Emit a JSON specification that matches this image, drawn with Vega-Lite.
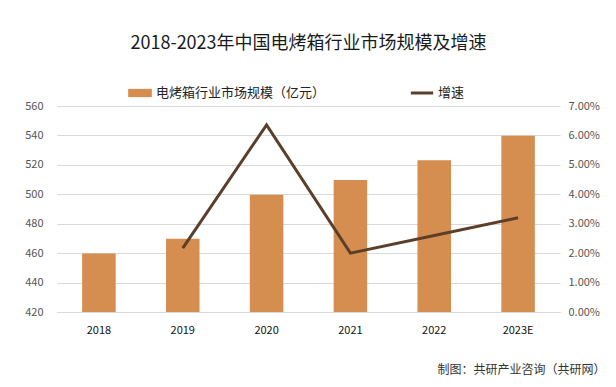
{
  "$schema": "https://vega.github.io/schema/vega-lite/v6.json",
  "width": 503,
  "height": 206,
  "autosize": {"type": "none"},
  "padding": {"left": 57, "top": 106, "right": 56, "bottom": 75},
  "background": "white",
  "config": {
    "font": "Noto Sans CJK SC",
    "view": {"stroke": null}
  },
  "title": {
    "text": "2018-2023年中国电烤箱行业市场规模及增速",
    "fontSize": 18,
    "fontWeight": "normal",
    "color": "#1a1a1a",
    "anchor": "middle",
    "offset": 27
  },
  "data": {
    "values": [
      {"year": "2018", "size": 459.8, "growth": null},
      {"year": "2019", "size": 469.8, "growth": 0.0217},
      {"year": "2020", "size": 499.7, "growth": 0.0636},
      {"year": "2021", "size": 509.7, "growth": 0.0200},
      {"year": "2022", "size": 523.2, "growth": 0.0260},
      {"year": "2023E", "size": 539.8, "growth": 0.0320}
    ]
  },
  "encoding": {
    "x": {
      "field": "year",
      "type": "nominal",
      "sort": null,
      "scale": {"paddingInner": 0.6, "paddingOuter": 0.3},
      "axis": {
        "labelAngle": 0,
        "labelFontSize": 11,
        "labelColor": "#111",
        "labelPadding": 12,
        "ticks": false,
        "domainColor": "#d9d9d9",
        "title": "制图：共研产业咨询（共研网）",
        "titleFontSize": 12,
        "titleFontWeight": "normal",
        "titleColor": "#333",
        "titleAnchor": "end",
        "titleAlign": "right",
        "titleX": 548,
        "titleY": 52
      }
    }
  },
  "layer": [
    {
      "mark": {"type": "bar", "color": "#D58E4F", "clip": true},
      "encoding": {
        "y": {
          "field": "size",
          "type": "quantitative",
          "scale": {"domain": [420, 560], "nice": false, "zero": false},
          "axis": {
            "values": [420, 440, 460, 480, 500, 520, 540, 560],
            "title": null,
            "domain": false,
            "ticks": false,
            "labelFontSize": 11,
            "labelColor": "#555",
            "labelPadding": 14,
            "gridColor": "#d9d9d9"
          }
        },
        "color": {
          "datum": "电烤箱行业市场规模（亿元）",
          "scale": {"range": ["#D58E4F"]},
          "legend": {
            "title": null,
            "orient": "none",
            "legendX": 70,
            "legendY": -26,
            "symbolType": "M-1,-0.35H1V0.35H-1Z",
            "symbolSize": 560,
            "labelFontSize": 13,
            "labelColor": "#222",
            "labelOffset": 3,
            "labelLimit": 400
          }
        }
      }
    },
    {
      "mark": {"type": "line", "strokeWidth": 3, "color": "#5C3F2B"},
      "encoding": {
        "y": {
          "field": "growth",
          "type": "quantitative",
          "scale": {"domain": [0, 0.07], "nice": false},
          "axis": {
            "orient": "right",
            "values": [0, 0.01, 0.02, 0.03, 0.04, 0.05, 0.06, 0.07],
            "format": ".2%",
            "title": null,
            "domain": false,
            "ticks": false,
            "grid": false,
            "labelFontSize": 11,
            "labelColor": "#555",
            "labelPadding": 8
          }
        },
        "stroke": {
          "datum": "增速",
          "scale": {"range": ["#5C3F2B"]},
          "legend": {
            "title": null,
            "orient": "none",
            "legendX": 352,
            "legendY": -26,
            "symbolType": "stroke",
            "symbolStrokeWidth": 3,
            "symbolSize": 500,
            "labelFontSize": 13,
            "labelColor": "#222",
            "labelOffset": 3,
            "labelLimit": 200
          }
        }
      }
    }
  ],
  "resolve": {"scale": {"y": "independent"}}
}
